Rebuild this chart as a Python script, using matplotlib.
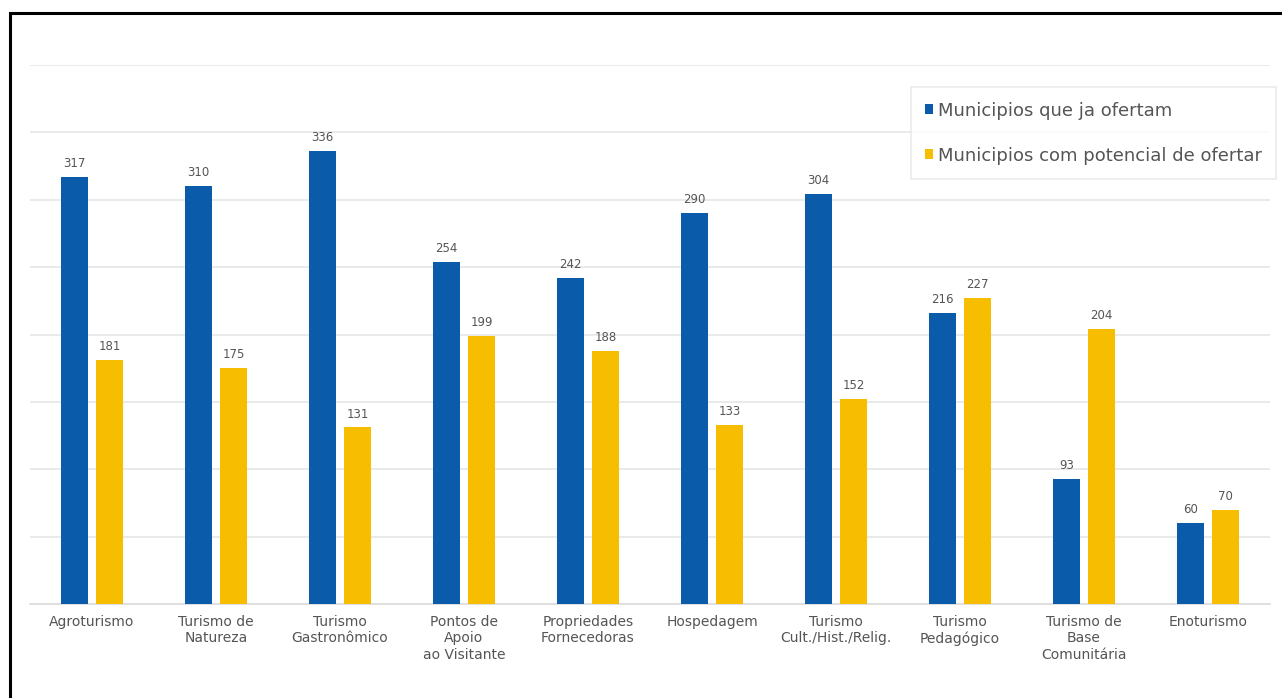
import matplotlib.pyplot as plt
import matplotlib.patches as patches
import numpy as np

categories = ["Agroturismo", "Turismo de\nNatureza", "Turismo\nGastronômico",
              "Pontos de\nApoio\nao Visitante", "Propriedades\nFornecedoras",
              "Hospedagem", "Turismo\nCult./Hist./Relig.", "Turismo\nPedagógico",
              "Turismo de\nBase\nComunitária", "Enoturismo"]
ja_ofertam = [317, 310, 336, 254, 242, 290, 304, 216, 93, 60]
potencial = [181, 175, 131, 199, 188, 133, 152, 227, 204, 70]

blue = "#0a5cab"
yellow = "#f7bd00"
txt = "#555555"

plt.rcParams["font.family"] = ["DejaVu Sans"]

fig = plt.figure(figsize=(12.82, 6.98), dpi=100)
ax = fig.add_axes([30 / 1282, 1 - 604 / 698, 1240 / 1282, 539 / 698])

x = np.arange(len(categories))
off = 0.141
w = 0.218
b1 = ax.bar(x - off, ja_ofertam, w, color=blue, label="Municipios que ja ofertam", zorder=3)
b2 = ax.bar(x + off, potencial, w, color=yellow, label="Municipios com potencial de ofertar", zorder=3)

for bars in (b1, b2):
    for r in bars:
        ax.annotate(str(int(r.get_height())),
                    (r.get_x() + r.get_width() / 2, r.get_height()),
                    xytext=(0, 5), textcoords="offset points",
                    ha="center", va="bottom", fontsize=8.5, color=txt)

ax.set_xlim(-0.5, 9.5)
ax.set_ylim(0, 400)
ax.set_yticks(np.arange(0, 401, 50))
ax.yaxis.grid(True, color="#e8e8e8", lw=1.3, zorder=0)
ax.tick_params(axis="y", left=False, labelleft=False)
ax.set_xticks(x)
ax.set_xticklabels(categories, fontsize=10, color=txt, linespacing=1.2)
ax.tick_params(axis="x", length=0, pad=8)
for s in ("top", "right", "left"):
    ax.spines[s].set_visible(False)
ax.spines["bottom"].set_color("#dddddd")
ax.spines["bottom"].set_linewidth(1.3)

leg = ax.legend(loc="upper right", bbox_to_anchor=(1.005, 0.959), fontsize=13,
                handlelength=0.45, handleheight=0.45, handletextpad=0.25,
                labelspacing=1.5, borderpad=0.8, borderaxespad=0.0,
                frameon=True, fancybox=False, labelcolor=txt)
leg.get_frame().set_edgecolor("#e6e6e6")
leg.get_frame().set_linewidth(1.2)

# moldura preta (lados esquerdo e superior visiveis)
fig.patches.append(patches.Rectangle((10 / 1282, -0.1), 1.2, 1 - 13 / 698 + 0.1,
                                     transform=fig.transFigure, fill=False,
                                     edgecolor="black", lw=2.2))

fig.savefig("out.png", dpi=100)
